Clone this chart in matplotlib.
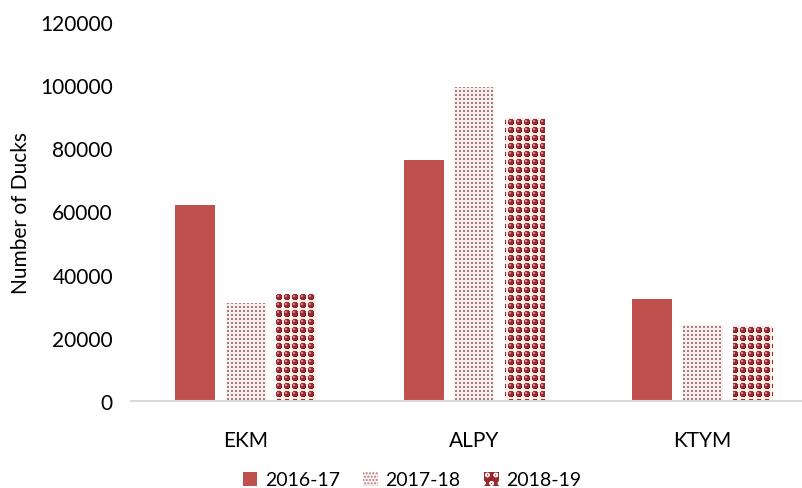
import numpy as np
import matplotlib
matplotlib.use("Agg")
import matplotlib.pyplot as plt
from matplotlib.patches import Patch

categories = ["EKM", "ALPY", "KTYM"]
series_names = ["2016-17", "2017-18", "2018-19"]
v_2016_17 = [62000, 76300, 32300]
v_2017_18 = [31000, 99400, 24000]
v_2018_19 = [34000, 89600, 23700]
yticks = [0, 20000, 40000, 60000, 80000, 100000, 120000]

plt.rcParams['font.family'] = ['Lato', 'DejaVu Sans']
W_IN, H_IN, DPI = 8.03, 4.89, 100
fig = plt.figure(figsize=(W_IN, H_IN), dpi=DPI)
ax = fig.add_axes([131/803, 87/489, 1 - 131/803, (402-23)/489])

XL = (-0.503, 2.44)
YL = (0, 120000)
x = np.arange(len(categories))
bw = 0.175
step = 0.221

red = '#c0504d'
b1 = ax.bar(x - step, v_2016_17, bw, color=red, zorder=2)
b2 = ax.bar(x, v_2017_18, bw, color='white', zorder=2)
b3 = ax.bar(x + step, v_2018_19, bw, color='#962832', zorder=2)

# pixel textures
pos = ax.get_position()
Wp = int(round(pos.width * W_IN * DPI))
Hp = int(round(pos.height * H_IN * DPI))
yy, xx = np.mgrid[0:Hp, 0:Wp]

def hexrgb(h):
    h = h.lstrip('#')
    return np.array([int(h[i:i+2], 16) / 255 for i in (0, 2, 4)])

dots = np.ones((Hp, Wp, 3)) * hexrgb('#f8eeee')
mask = ((xx % 4) < 2) & ((yy % 4) < 2)
dots[mask] = hexrgb('#a87a7a')

sph = np.ones((Hp, Wp, 3)) * hexrgb('#fdece4')
tx = (xx % 8) - 3.5
ty = (yy % 8) - 3.5
d = np.sqrt(tx**2 + ty**2)
R = 3.1
sph[d < R] = hexrgb('#9a2a34')
hl = np.sqrt((tx + 1.0)**2 + (ty + 1.0)**2) < 0.9
sph[hl & (d < R)] = hexrgb('#d08088')
edge = (d >= R - 0.6) & (d < R) & (tx > 0) & (ty > 0)
sph[edge] = hexrgb('#6e1c24')

for cont, tex in ((b2, dots), (b3, sph)):
    for bar in cont:
        im = ax.imshow(tex, extent=(XL[0], XL[1], YL[0], YL[1]), origin='upper',
                       interpolation='nearest', aspect='auto', zorder=3)
        im.set_clip_path(bar)

ax.set_xlim(*XL)
ax.set_ylim(*YL)
ax.set_yticks(yticks)
ax.set_yticklabels([str(t) for t in yticks])
ax.set_xticks(x)
ax.set_xticklabels(categories)
ax.tick_params(axis='both', length=0, labelsize=15, colors='#000000')
ax.tick_params(axis='y', pad=13)
ax.tick_params(axis='x', pad=21)
for s in ('top', 'right', 'left'):
    ax.spines[s].set_visible(False)
ax.spines['bottom'].set_color('#d9d9d9')
ax.spines['bottom'].set_linewidth(1.5)
ax.spines['bottom'].set_zorder(4)
ax.set_ylabel("Number of Ducks", fontsize=15)
ax.yaxis.set_label_coords((31 - 131) / Wp, (402 - 213) / Hp)

handles = [
    Patch(facecolor=red, edgecolor=red, lw=0),
    Patch(facecolor='#fbf3f3', edgecolor='#b07a7a', hatch='.....', lw=0),
    Patch(facecolor='#962832', edgecolor='#fdeee6', hatch='oo', lw=0),
]
fig.legend(handles, series_names, loc='center', bbox_to_anchor=(412/803, 1 - 481/489),
           ncol=3, frameon=False, fontsize=14, handlelength=0.75, handleheight=0.75,
           handletextpad=0.4, columnspacing=1.2)

fig.savefig("out.png", dpi=DPI)
